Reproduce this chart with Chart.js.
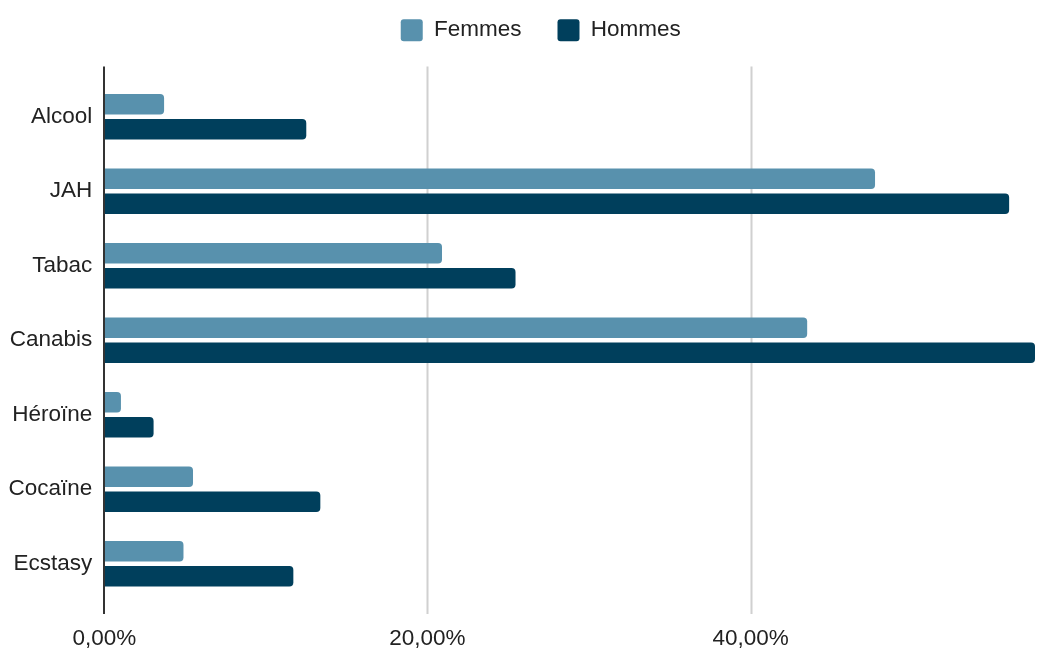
<!DOCTYPE html>
<html>
<head>
<meta charset="utf-8">
<script src="https://cdn.jsdelivr.net/npm/chart.js@4.4.1/dist/chart.umd.min.js"></script>
<style>
  html, body { margin: 0; padding: 0; background: #fff; }
  #wrap { width: 1063px; height: 648px; }
</style>
</head>
<body>
<div id="wrap"><canvas id="mycanvas" width="1063" height="648"></canvas></div>
<script>
var categories = ['Alcool', 'JAH', 'Tabac', 'Canabis', 'Héroïne', 'Cocaïne', 'Ecstasy'];
var femmes = [3.7, 47.7, 20.9, 43.5, 1.03, 5.49, 4.9];
var hommes = [12.5, 56.0, 25.45, 57.6, 3.05, 13.37, 11.7];
var xTicks = [0, 20, 40];
var xMax = 57.6;

var FONT = "'Liberation Sans', Arial, sans-serif";

function pct(v) {
	return v.toFixed(2).replace('.', ',') + '%';
}

// push the plot area down below the legend, and nudge the legend right
var legendGap = {
	id: 'legendGap',
	beforeInit: function(chart) {
		var fit = chart.legend.fit;
		chart.legend.fit = function() {
			fit.call(this);
			this.height += 28;
		};
	},
	afterLayout: function(chart) {
		chart.legend.left += 25;
		chart.legend.right += 25;
	}
};

// vertical lines stick out a bit above and below the bars
var gridLines = {
	id: 'gridLines',
	beforeDatasetsDraw: function(chart) {
		var ctx = chart.ctx, area = chart.chartArea, x = chart.scales.x;
		ctx.save();
		x.ticks.forEach(function(t) {
			if (t.value === 0) return;
			var px = Math.round(x.getPixelForValue(t.value)) + 0.5;
			ctx.strokeStyle = '#d0d0d0';
			ctx.lineWidth = 2;
			ctx.beginPath();
			ctx.moveTo(px, area.top - 13);
			ctx.lineTo(px, area.bottom + 13);
			ctx.stroke();
		});
		ctx.restore();
	},
	afterDatasetsDraw: function(chart) {
		var ctx = chart.ctx, area = chart.chartArea, x = chart.scales.x;
		var px = Math.round(x.getPixelForValue(0));
		ctx.save();
		ctx.strokeStyle = '#333333';
		ctx.lineWidth = 2;
		ctx.beginPath();
		ctx.moveTo(px, area.top - 13);
		ctx.lineTo(px, area.bottom + 13);
		ctx.stroke();
		ctx.restore();
	}
};

var ctx = document.getElementById('mycanvas');
var barGraph = new Chart(ctx, {
	type: 'bar',
	data: {
		labels: categories,
		datasets: [
			{ label: 'Femmes', data: femmes, backgroundColor: '#5891ad', borderWidth: 0, borderRadius: 4 },
			{ label: 'Hommes', data: hommes, backgroundColor: '#003f5c', borderWidth: 0, borderRadius: 4 }
		]
	},
	options: {
		indexAxis: 'y',
		responsive: false,
		animation: false,
		categoryPercentage: 0.672,
		barPercentage: 0.82,
		layout: { padding: { top: -17, left: -3.5, right: 28, bottom: -28 } },
		font: { family: FONT, size: 22.5 },
		plugins: {
			legend: {
				position: 'top',
				labels: {
					color: '#222',
					font: { family: FONT, size: 22.5 },
					boxWidth: 22,
					boxHeight: 22,
					padding: 36,
					useBorderRadius: true,
					borderRadius: 3
				}
			},
			tooltip: { enabled: false }
		},
		scales: {
			x: {
				min: 0,
				max: xMax,
				afterBuildTicks: function(scale) {
					scale.ticks = xTicks.map(function(v) { return { value: v }; });
				},
				grid: { display: false, drawTicks: false },
				border: { display: false },
				ticks: {
					color: '#222',
					padding: 24,
					font: { family: FONT, size: 22.5 },
					callback: function(v) { return pct(v); }
				}
			},
			y: {
				grid: { display: false, drawTicks: false },
				border: { display: false },
				ticks: {
					color: '#222',
					padding: 12,
					font: { family: FONT, size: 22.5 }
				}
			}
		}
	},
	plugins: [legendGap, gridLines]
});
</script>
</body>
</html>
